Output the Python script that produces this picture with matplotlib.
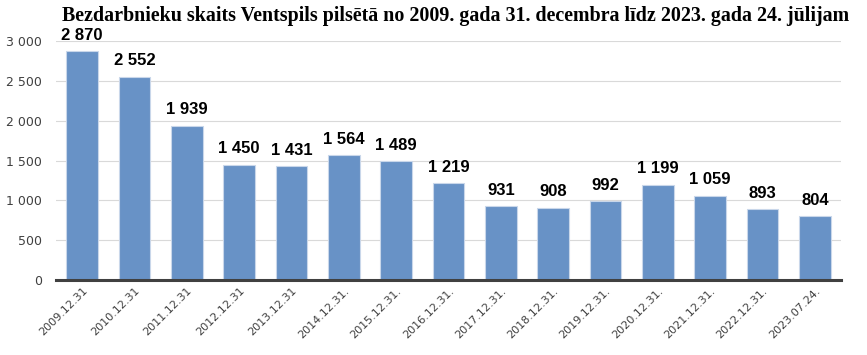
import matplotlib
matplotlib.use("Agg")
import matplotlib.pyplot as plt
from matplotlib.ticker import FuncFormatter

categories = ["2009.12.31", "2010.12.31", "2011.12.31", "2012.12.31", "2013.12.31",
              "2014.12.31.", "2015.12.31.", "2016.12.31.", "2017.12.31.", "2018.12.31.",
              "2019.12.31.", "2020.12.31.", "2021.12.31.", "2022.12.31.", "2023.07.24."]
values = [2870, 2552, 1939, 1450, 1431, 1564, 1489, 1219, 931, 908, 992, 1199, 1059, 893, 804]
yticks = [0, 500, 1000, 1500, 2000, 2500, 3000]
title = "Bezdarbnieku skaits Ventspils pilsētā no 2009. gada 31. decembra līdz 2023. gada 24. jūlijam"

def fmt(v):
    return f"{int(v):,}".replace(",", " ")

fig = plt.figure(figsize=(8.67, 3.55), dpi=100)
ax = fig.add_axes([0.0646, 0.211, 0.9054, 0.6735])
x = range(len(values))
ax.bar(x, values, width=0.6, color="#6892c6", edgecolor="#c9d7ea", linewidth=0.8, zorder=2)
for i, v in zip(x, values):
    ax.text(i, v + 105, fmt(v), ha="center", va="bottom", fontsize=12, fontweight="bold",
            color="black", family="Liberation Sans", clip_on=False)
ax.set_xlim(-0.5, len(values) - 0.5)
ax.set_ylim(0, 3000)
ax.set_yticks(yticks)
ax.yaxis.set_major_formatter(FuncFormatter(lambda v, p: fmt(v)))
ax.set_xticks(list(x))
ax.set_xticklabels(categories, rotation=45, ha="right", rotation_mode="anchor", fontsize=8, color="#404040")
ax.tick_params(axis="y", labelsize=9, labelcolor="#404040", length=0, pad=10)
ax.tick_params(axis="x", length=0, pad=4)
ax.grid(axis="y", color="#d9d9d9", linewidth=0.8, zorder=0)
for s in ["top", "right", "left"]:
    ax.spines[s].set_visible(False)
ax.spines["bottom"].set_color("#404040")
ax.spines["bottom"].set_linewidth(2.2)
ax.spines["bottom"].set_zorder(3)
fig.text(0.526, 0.955, title, ha="center", va="center", fontsize=14.4, fontweight="bold",
         family="Liberation Serif")
fig.savefig("out.png", dpi=100)
